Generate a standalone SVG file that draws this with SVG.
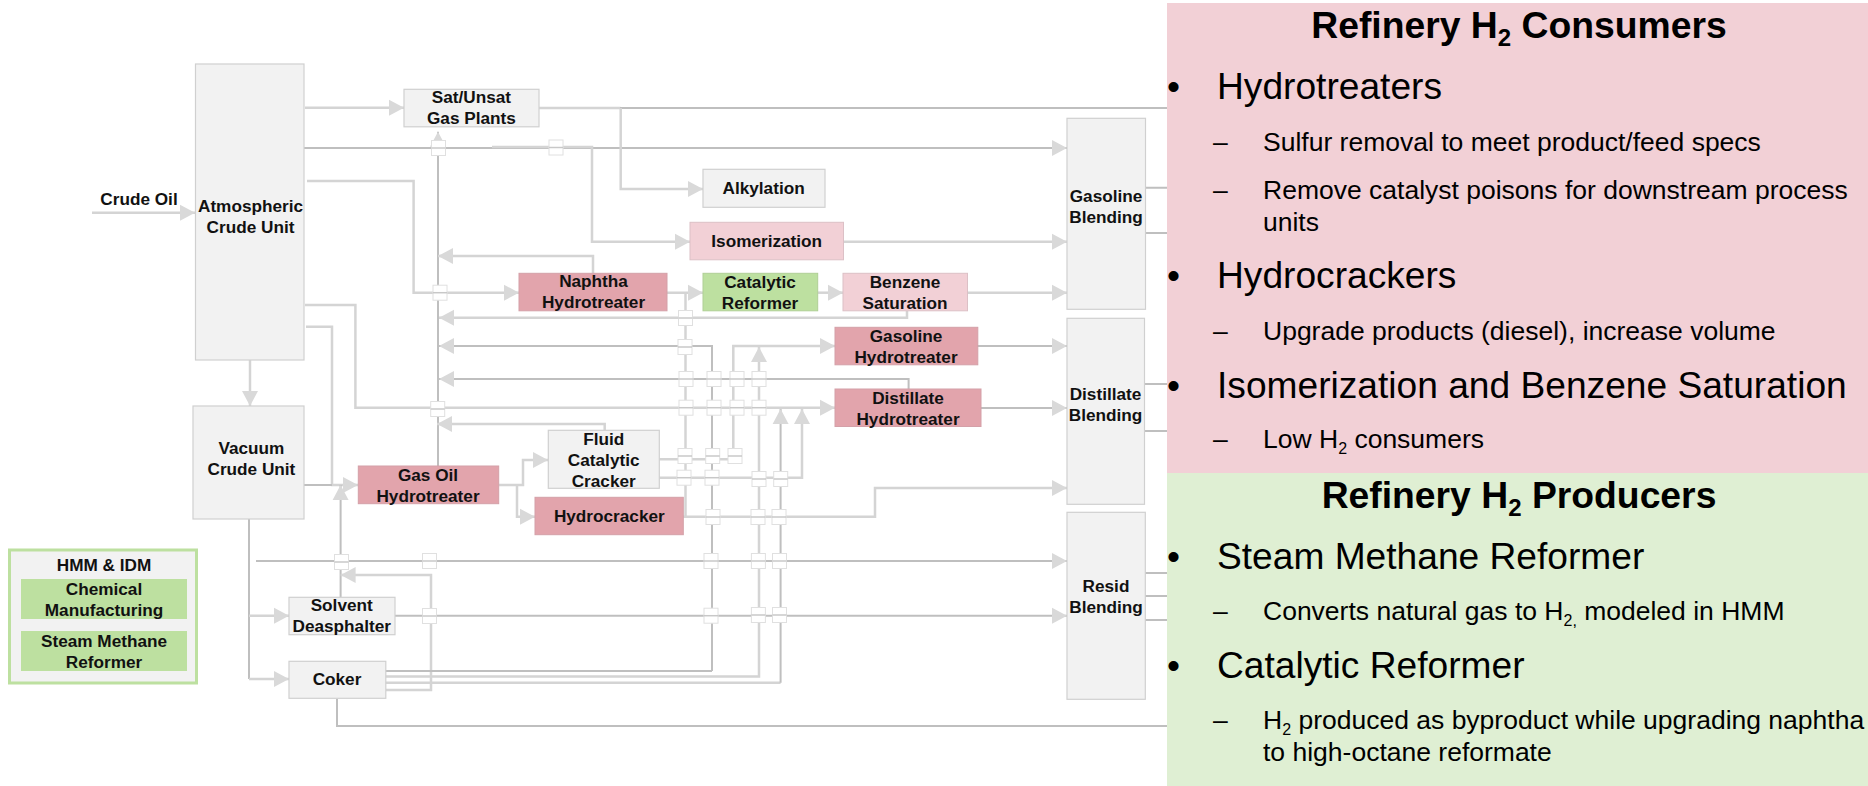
<svg xmlns="http://www.w3.org/2000/svg" xmlns:xlink="http://www.w3.org/1999/xlink" width="1868" height="786" viewBox="0 0 1868 786">
<style>
text{font-family:"Liberation Sans",Arial,sans-serif;fill:#000}
.n{font-size:17.2px;font-weight:bold;text-anchor:middle;fill:#111}
.g{fill:#f2f2f2;stroke:#d0d0d0;stroke-width:1.2}
.dp{fill:#e2a4ac;stroke:#d4a0a8;stroke-width:1}
.lp{fill:#f2d0d6;stroke:#dcc0c6;stroke-width:1}
.gr{fill:#bde0a0;stroke:#b0cf95;stroke-width:1}
.a{fill:none;stroke:#d4d4d4;stroke-width:2.5}
.b{fill:none;stroke:#bfbfbf;stroke-width:2}
.m{marker-end:url(#ah)}
.t{font-size:37.3px;font-weight:bold;text-anchor:middle}
.l1{font-size:37.15px}
.l2{font-size:26.5px}
</style>
<defs>
<marker id="ah" markerUnits="userSpaceOnUse" markerWidth="17" markerHeight="18" refX="15" refY="8.5" orient="auto"><path d="M0,0.5 L15,8.5 L0,16.5 Z" fill="#d9d9d9"/></marker>
<g id="j"><rect x="-7" y="-7.5" width="14" height="15" fill="#fff" stroke="#e0e0e0" stroke-width="1"/><path d="M-7,0 H7" stroke="#c8c8c8" stroke-width="1.5"/></g>
</defs>
<rect x="0" y="0" width="1868" height="786" fill="#fff"/>

<g id="connectors">
<path class="a m" d="M92,212.7 H195"/>
<path class="a m" d="M305,107.7 H404"/>
<path class="b m" d="M304,148 H1067"/>
<path class="a" d="M539,108 H620.7"/>
<path class="b" d="M620,108 H1167"/>
<path class="a m" d="M620.7,108 V189 H703"/>
<path class="a m" d="M492,147 H592 V241.7 H690"/>
<path class="a m" d="M307,181 H413.6 V292.7 H519"/>
<path class="a m" d="M305,305 H355.4 V407.7 H835"/>
<path class="a m" d="M306,326.7 H332 V485 H358"/>
<path class="b" d="M304,485 H332"/>
<path class="a m" d="M250,360 V406"/>
<path class="b m" d="M438,466 V131.7"/>
<path class="a m" d="M593,273 V256 H438"/>
<path class="a m" d="M907,311 V317.7 H439"/>
<path class="b m" d="M712,671 V346 H439"/>
<path class="b m" d="M908.6,389 V379 H439"/>
<path class="a m" d="M604.7,430 V424 H437"/>
<path class="a m" d="M499,485 H523 V460 H548"/>
<path class="a m" d="M517,485 V516.7 H535"/>
<path class="a m" d="M667,292.7 H703"/>
<path class="a" d="M685.5,292.7 V516.7"/>
<path class="a m" d="M818,292.7 H843"/>
<path class="a m" d="M967,292.7 H1067"/>
<path class="a m" d="M843,241.7 H1067"/>
<path class="a m" d="M659,459.3 H733.3 V346 H835"/>
<path class="b m" d="M977,346 H1067"/>
<path class="b m" d="M981,408 H1067"/>
<path class="a m" d="M659,477.7 H802 V409"/>
<path class="a m" d="M683,516.7 H875 V488 H1067"/>
<path class="b m" d="M256,561 H1067"/>
<path class="b m" d="M394,615.7 H1067"/>
<path class="b" d="M249,519 V679"/>
<path class="a m" d="M249,615.7 H289"/>
<path class="a m" d="M249,679 H289"/>
<path class="b m" d="M340.6,597 V485"/>
<path class="a m" d="M386,690 H431 V575 H340.6"/>
<path class="b" d="M385,671 H712"/>
<path class="a m" d="M385,676.5 H759 V347"/>
<path class="a" d="M385,682.7 H780.6"/>
<path class="b m" d="M780.6,682.7 V409"/>
<path class="b" d="M337,699 V726 H1167"/>
<path class="b" d="M1145,187.7 H1167 M1145,233 H1167 M1144,384 H1167 M1144,431 H1167 M1145,573 H1167 M1145,596 H1167 M1145,620 H1167"/>
<use xlink:href="#j" x="438.5" y="148"/>
<use xlink:href="#j" x="556" y="147.5"/>
<use xlink:href="#j" x="440" y="292.7"/>
<use xlink:href="#j" x="437.7" y="409"/>
<use xlink:href="#j" x="685.5" y="318"/>
<use xlink:href="#j" x="685" y="347"/>
<use xlink:href="#j" x="686" y="379"/>
<use xlink:href="#j" x="714" y="379"/>
<use xlink:href="#j" x="737" y="379"/>
<use xlink:href="#j" x="759" y="379"/>
<use xlink:href="#j" x="686" y="407.7"/>
<use xlink:href="#j" x="714" y="407.7"/>
<use xlink:href="#j" x="737" y="407.7"/>
<use xlink:href="#j" x="759" y="407.7"/>
<use xlink:href="#j" x="685" y="456"/>
<use xlink:href="#j" x="712.7" y="456"/>
<use xlink:href="#j" x="735" y="456"/>
<use xlink:href="#j" x="684" y="477.7"/>
<use xlink:href="#j" x="712" y="477.7"/>
<use xlink:href="#j" x="759" y="479"/>
<use xlink:href="#j" x="780.7" y="479"/>
<use xlink:href="#j" x="713" y="517"/>
<use xlink:href="#j" x="758" y="517"/>
<use xlink:href="#j" x="779" y="517"/>
<use xlink:href="#j" x="341.5" y="562"/>
<use xlink:href="#j" x="429.5" y="561"/>
<use xlink:href="#j" x="429.5" y="616"/>
<use xlink:href="#j" x="711" y="561"/>
<use xlink:href="#j" x="758.4" y="561"/>
<use xlink:href="#j" x="779.5" y="561"/>
<use xlink:href="#j" x="711" y="615.7"/>
<use xlink:href="#j" x="758.4" y="615"/>
<use xlink:href="#j" x="779.5" y="615"/>
</g>

<g id="atmospheric"><rect class="g" x="195.5" y="64" width="108.5" height="296"/><text class="n" x="250.5" y="212">Atmospheric</text><text class="n" x="250.5" y="233">Crude Unit</text></g>
<text class="n" id="crude-oil" x="139" y="205">Crude Oil</text>
<g id="gas-plants"><rect class="g" x="404" y="89.3" width="135" height="37.5"/><text class="n" x="471.4" y="103">Sat/Unsat</text><text class="n" x="471.4" y="124">Gas Plants</text></g>
<g id="alkylation"><rect class="g" x="703" y="169.3" width="122" height="38"/><text class="n" x="763.6" y="194">Alkylation</text></g>
<g id="isomerization"><rect class="lp" x="690" y="222.3" width="153.5" height="37.5"/><text class="n" x="766.7" y="247">Isomerization</text></g>
<g id="naphtha-ht"><rect class="dp" x="519" y="273.3" width="148" height="37.5"/><text class="n" x="593.5" y="287">Naphtha</text><text class="n" x="593.5" y="308">Hydrotreater</text></g>
<g id="cat-reformer"><rect class="gr" x="703" y="273.3" width="114.7" height="37.5"/><text class="n" x="760" y="288">Catalytic</text><text class="n" x="760" y="309">Reformer</text></g>
<g id="benzene-sat"><rect class="lp" x="843" y="273.3" width="124.5" height="37.5"/><text class="n" x="905" y="288">Benzene</text><text class="n" x="905" y="309">Saturation</text></g>
<g id="gasoline-ht"><rect class="dp" x="835" y="327.3" width="142.8" height="37.5"/><text class="n" x="906" y="342">Gasoline</text><text class="n" x="906" y="363">Hydrotreater</text></g>
<g id="distillate-ht"><rect class="dp" x="835" y="389" width="146" height="37.5"/><text class="n" x="908" y="404">Distillate</text><text class="n" x="908" y="425">Hydrotreater</text></g>
<g id="gasoline-blend"><rect class="g" x="1067" y="118.3" width="78.5" height="191"/><text class="n" x="1106" y="202">Gasoline</text><text class="n" x="1106" y="223">Blending</text></g>
<g id="distillate-blend"><rect class="g" x="1067" y="318.3" width="77.5" height="186"/><text class="n" x="1105.5" y="400">Distillate</text><text class="n" x="1105.5" y="421">Blending</text></g>
<g id="resid-blend"><rect class="g" x="1067" y="512.3" width="78.3" height="187"/><text class="n" x="1106" y="592">Resid</text><text class="n" x="1106" y="613">Blending</text></g>
<g id="vacuum"><rect class="g" x="193" y="406" width="111" height="113"/><text class="n" x="251.4" y="454">Vacuum</text><text class="n" x="251.4" y="475">Crude Unit</text></g>
<g id="gas-oil-ht"><rect class="dp" x="358.3" y="466" width="140.4" height="37.7"/><text class="n" x="428" y="480.7">Gas Oil</text><text class="n" x="428" y="501.7">Hydrotreater</text></g>
<g id="fcc"><rect class="g" x="548.3" y="430.3" width="111" height="58"/><text class="n" x="603.7" y="445">Fluid</text><text class="n" x="603.7" y="465.7">Catalytic</text><text class="n" x="603.7" y="486.7">Cracker</text></g>
<g id="hydrocracker"><rect class="dp" x="535" y="497.3" width="148.3" height="37.4"/><text class="n" x="609.3" y="521.7">Hydrocracker</text></g>
<g id="solvent"><rect class="g" x="289" y="597.3" width="106" height="37.4"/><text class="n" x="341.7" y="611">Solvent</text><text class="n" x="341.7" y="631.7">Deasphalter</text></g>
<g id="coker"><rect class="g" x="289" y="661.3" width="96.8" height="37"/><text class="n" x="337" y="685.3">Coker</text></g>
<g id="hmm-idm"><rect x="9.5" y="550" width="187" height="133" fill="#f2f2f2" stroke="#bde0a0" stroke-width="3"/><text class="n" x="104" y="571">HMM &amp; IDM</text></g>
<g id="chemical"><rect x="21" y="579" width="166" height="40" fill="#bde0a0"/><text class="n" x="104" y="595">Chemical</text><text class="n" x="104" y="616">Manufacturing</text></g>
<g id="smr"><rect x="21" y="631" width="166" height="40" fill="#bde0a0"/><text class="n" x="104" y="647">Steam Methane</text><text class="n" x="104" y="668">Reformer</text></g>

<g id="consumers">
<rect x="1167" y="3" width="701" height="470" fill="#f2d0d6"/>
<text class="t" x="1519" y="38">Refinery H<tspan font-size="24" dy="8">2</tspan><tspan dy="-8"> Consumers</tspan></text>
<text class="l1" x="1167" y="99">•</text><text class="l1" x="1217" y="99">Hydrotreaters</text>
<text class="l2" x="1213" y="151">–</text><text class="l2" x="1263" y="151">Sulfur removal to meet product/feed specs</text>
<text class="l2" x="1213" y="199">–</text><text class="l2" x="1263" y="199">Remove catalyst poisons for downstream process</text>
<text class="l2" x="1263" y="231">units</text>
<text class="l1" x="1167" y="288">•</text><text class="l1" x="1217" y="288">Hydrocrackers</text>
<text class="l2" x="1213" y="340">–</text><text class="l2" x="1263" y="340">Upgrade products (diesel), increase volume</text>
<text class="l1" x="1167" y="398">•</text><text class="l1" x="1217" y="398">Isomerization and Benzene Saturation</text>
<text class="l2" x="1213" y="448">–</text><text class="l2" x="1263" y="448">Low H<tspan font-size="16" dy="6">2</tspan><tspan dy="-6"> consumers</tspan></text>
</g>
<g id="producers">
<rect x="1167" y="473" width="701" height="313" fill="#dfefd3"/>
<text class="t" x="1519" y="508">Refinery H<tspan font-size="24" dy="8">2</tspan><tspan dy="-8"> Producers</tspan></text>
<text class="l1" x="1167" y="569">•</text><text class="l1" x="1217" y="569">Steam Methane Reformer</text>
<text class="l2" x="1213" y="620">–</text><text class="l2" x="1263" y="620">Converts natural gas to H<tspan font-size="16" dy="6">2,</tspan><tspan dy="-6"> modeled in HMM</tspan></text>
<text class="l1" x="1167" y="678">•</text><text class="l1" x="1217" y="678">Catalytic Reformer</text>
<text class="l2" x="1213" y="729">–</text><text class="l2" x="1263" y="729">H<tspan font-size="16" dy="6">2</tspan><tspan dy="-6"> produced as byproduct while upgrading naphtha</tspan></text>
<text class="l2" x="1263" y="761">to high-octane reformate</text>
</g>
</svg>
